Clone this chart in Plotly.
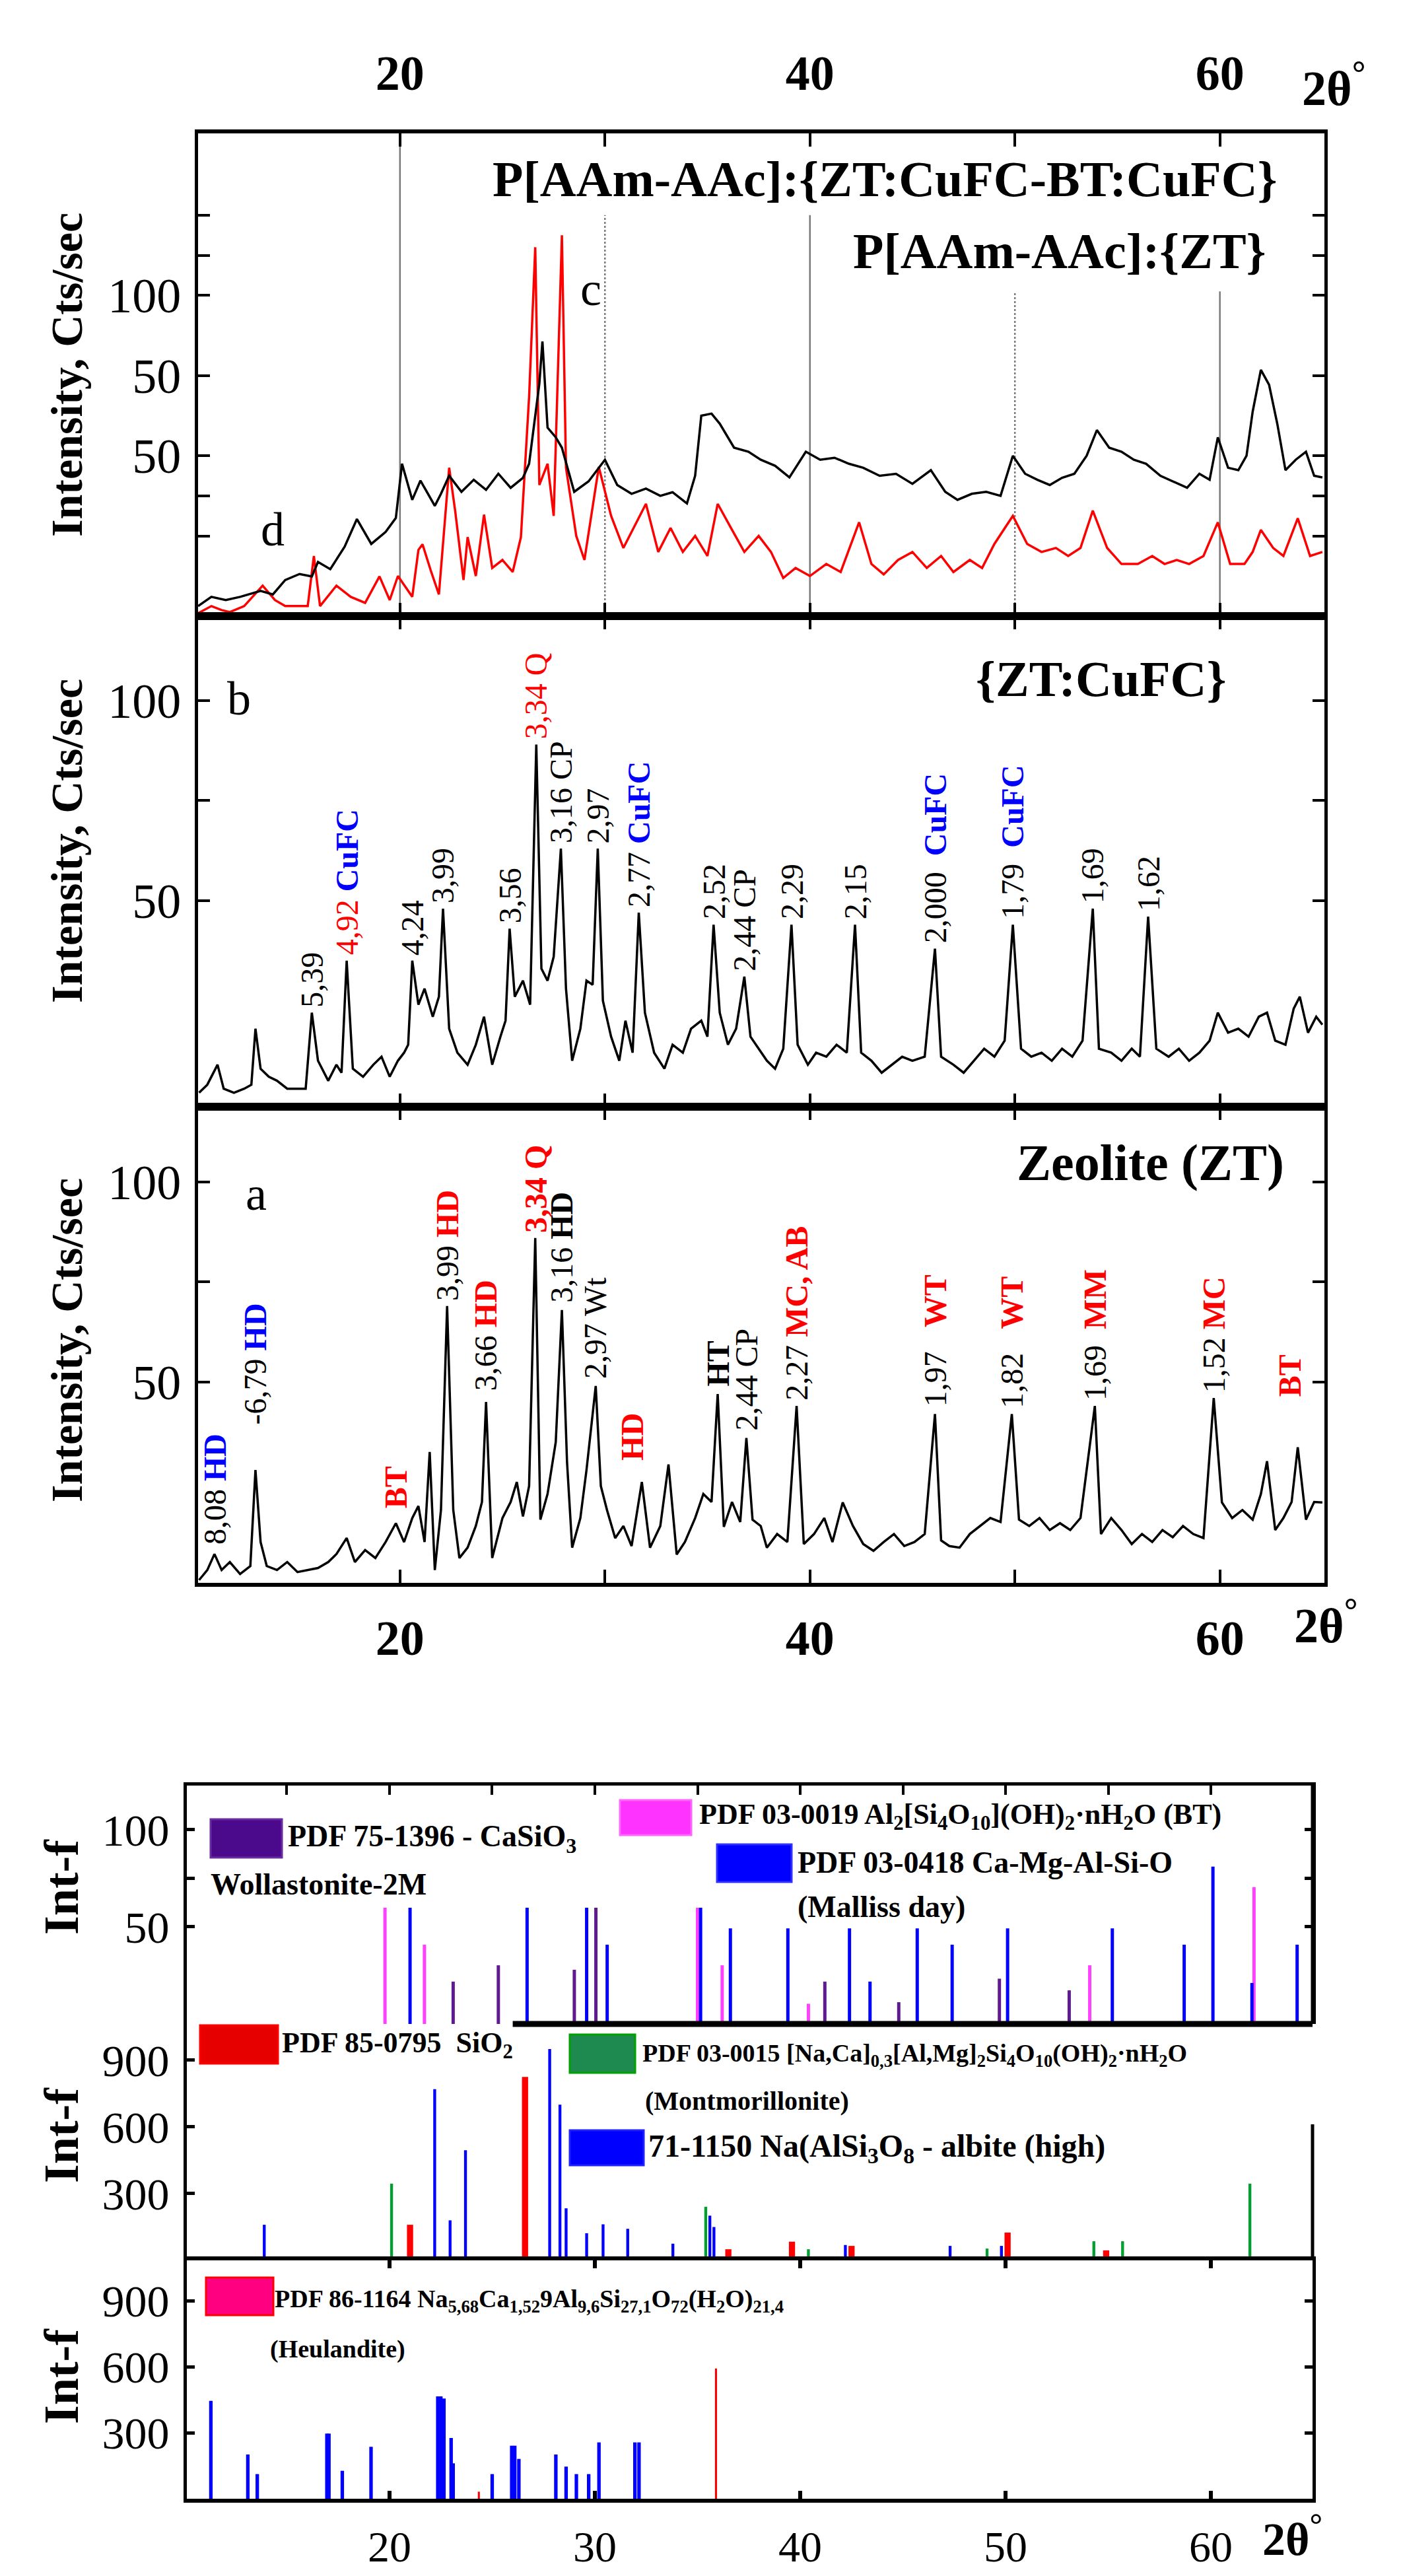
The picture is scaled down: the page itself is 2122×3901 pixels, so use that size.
import plotly.graph_objects as go

W, H = 2122, 3901
FONT = "Liberation Serif"

# ---------------- XRD patterns (2theta, intensity) ----------------
# top panel, black curve (d)
d_x = [10.15, 10.8, 11.5, 12.2, 13.2, 13.8, 14.4, 15.1, 15.7, 16.0, 16.6, 17.3, 17.9, 18.6, 19.3, 19.8,
       20.1, 20.6, 21.0, 21.7, 22.0, 22.4, 23.0, 23.6, 24.2, 24.8, 25.4, 26.0, 26.3, 26.6, 26.8, 26.95,
       27.2, 27.6, 27.9, 28.5, 29.2, 30.0, 30.6, 31.3, 32.0, 32.7, 33.3, 34.0, 34.4, 34.7, 35.2, 35.6,
       36.3, 37.0, 37.6, 38.3, 39.0, 39.8, 40.5, 41.2, 41.9, 42.6, 43.4, 44.2, 45.0, 45.9, 46.6, 47.2,
       47.9, 48.6, 49.3, 49.9, 50.5, 51.1, 51.7, 52.3, 52.9, 53.5, 54.0, 54.6, 55.2, 55.8, 56.4, 57.1,
       57.7, 58.4, 59.0, 59.5, 59.9, 60.4, 60.9, 61.3, 61.6, 62.0, 62.4, 62.8, 63.2, 63.7, 64.2, 64.6, 65.0]
d_y = [2.5, 4.8, 4.0, 4.8, 6.3, 5.4, 9.0, 10.5, 9.9, 13.5, 11.7, 17.3, 24.2, 18.0, 21.0, 24.5,
       38.0, 29.0, 33.8, 27.5, 30.5, 35.0, 31.0, 34.0, 31.5, 35.5, 32.0, 34.5, 38.0, 50.0, 58.0, 68.5,
       47.0, 44.6, 42.0, 31.0, 33.6, 39.0, 32.7, 30.5, 31.8, 30.0, 30.9, 28.1, 35.0, 50.0, 50.5, 48.0,
       42.0, 41.0, 39.0, 37.5, 34.6, 41.0, 39.0, 39.5, 38.0, 37.0, 35.0, 35.5, 33.0, 36.4, 31.0, 29.0,
       30.5, 31.0, 30.0, 40.0, 35.5, 34.0, 32.7, 34.5, 35.5, 40.0, 46.4, 42.0, 41.0, 39.0, 38.0, 35.0,
       33.6, 32.0, 35.5, 34.0, 44.6, 37.0, 36.4, 40.0, 51.0, 61.4, 57.7, 48.0, 36.4, 39.0, 41.0, 35.0, 34.6]

# top panel, red curve (c)
c_x = [10.15, 10.8, 11.3, 11.7, 12.4, 13.3, 13.9, 14.4, 15.1, 15.5, 15.8, 16.1, 16.9, 17.6, 18.3, 19.0,
       19.5, 19.9, 20.6, 20.9, 21.1, 21.5, 21.9, 22.2, 22.4, 22.7, 23.1, 23.3, 23.7, 24.1, 24.5, 25.0,
       25.5, 25.9, 26.3, 26.6, 26.8, 27.2, 27.5, 27.9, 28.1, 28.6, 29.0, 29.7, 30.3, 30.9, 31.4, 32.0,
       32.6, 33.2, 33.8, 34.4, 35.0, 35.5, 36.2, 36.8, 37.5, 38.1, 38.7, 39.3, 40.0, 40.8, 41.5, 42.4,
       43.0, 43.6, 44.3, 45.0, 45.7, 46.4, 47.0, 47.8, 48.4, 49.0, 49.9, 50.6, 51.3, 52.0, 52.6, 53.2,
       53.8, 54.5, 55.2, 56.0, 56.7, 57.3, 57.9, 58.5, 59.2, 59.9, 60.5, 61.2, 61.6, 62.0, 62.6, 63.1,
       63.8, 64.4, 65.0]
c_y = [0.7, 2.5, 1.5, 1.0, 2.5, 7.6, 4.0, 2.5, 2.5, 2.5, 15.0, 2.5, 7.6, 4.8, 3.3, 9.9,
       4.0, 10.0, 4.8, 16.5, 17.9, 11.4, 5.4, 24.0, 37.0, 26.0, 9.0, 19.7, 10.0, 25.3, 12.0, 14.0,
       11.0, 19.7, 54.7, 92.0, 32.7, 38.0, 25.0, 95.0, 37.0, 20.0, 14.0, 37.2, 25.0, 17.0, 22.0, 28.0,
       16.0, 22.0, 16.0, 20.0, 15.0, 28.0, 21.5, 16.0, 20.0, 16.0, 9.5, 12.0, 10.0, 13.0, 11.0, 23.4,
       13.0, 10.4, 14.0, 16.0, 12.0, 15.0, 11.0, 14.0, 12.0, 18.0, 25.0, 18.0, 16.0, 17.0, 15.0, 17.0,
       26.3, 17.0, 13.0, 13.0, 15.0, 13.0, 14.0, 13.0, 15.0, 23.4, 13.0, 13.0, 16.0, 21.5, 17.0, 15.0,
       24.4, 15.0, 16.0]

# middle panel (b) {ZT:CuFC}
b_x = [10.2, 10.6, 11.1, 11.4, 11.9, 12.4, 12.75, 12.95, 13.2, 13.6, 14.0, 14.5, 15.0, 15.4, 15.7, 16.0,
       16.5, 16.9, 17.15, 17.4, 17.7, 18.2, 18.7, 19.1, 19.5, 19.9, 20.2, 20.4, 20.6, 20.9, 21.2, 21.6,
       21.9, 22.1, 22.4, 22.8, 23.3, 23.7, 24.1, 24.5, 24.9, 25.15, 25.35, 25.6, 26.0, 26.35, 26.65, 26.9,
       27.2, 27.5, 27.85, 28.1, 28.4, 28.8, 29.1, 29.4, 29.65, 29.9, 30.3, 30.7, 31.0, 31.35, 31.65, 31.95,
       32.4, 32.9, 33.3, 33.8, 34.2, 34.7, 35.0, 35.3, 35.6, 36.0, 36.4, 36.8, 37.1, 37.5, 37.9, 38.3,
       38.7, 39.1, 39.4, 39.9, 40.3, 40.8, 41.3, 41.8, 42.2, 42.5, 43.0, 43.5, 44.0, 44.5, 45.0, 45.6,
       46.1, 46.4, 47.0, 47.5, 48.0, 48.5, 49.0, 49.5, 49.9, 50.3, 50.8, 51.3, 51.8, 52.3, 52.8, 53.3,
       53.8, 54.1, 54.7, 55.2, 55.7, 56.1, 56.5, 56.9, 57.5, 58.0, 58.5, 59.0, 59.5, 59.9, 60.4, 60.9,
       61.4, 61.9, 62.3, 62.7, 63.2, 63.6, 63.9, 64.3, 64.7, 65.0]
b_y = [2, 4, 9, 3, 2, 3, 4, 18, 8, 6, 5, 3, 3, 3, 22, 10,
       5, 9, 7, 35, 8, 6, 9, 11, 6, 10, 12, 14, 35, 24, 28, 21,
       26, 48, 18, 12, 9, 14, 21, 9, 16, 20, 43, 26, 30, 24, 89, 33,
       30, 36, 63, 28, 10, 18, 30, 29, 63, 25, 16, 10, 20, 12, 47, 22,
       12, 8, 14, 12, 18, 20, 16, 44, 22, 14, 18, 31, 16, 13, 10, 8,
       13, 44, 14, 9, 12, 11, 14, 12, 44, 12, 10, 7, 9, 11, 10, 11,
       38, 11, 9, 7, 10, 13, 11, 15, 44, 13, 11, 12, 10, 13, 11, 15,
       48, 13, 12, 10, 13, 11, 46, 13, 11, 13, 10, 12, 15, 22, 17, 18,
       16, 21, 22, 15, 14, 23, 26, 17, 21, 19]

# bottom panel (a) Zeolite (ZT)
a_x = [10.2, 10.6, 10.95, 11.3, 11.7, 12.2, 12.7, 12.95, 13.2, 13.5, 14.0, 14.5, 15.0, 15.5, 16.0, 16.5,
       16.9, 17.4, 17.8, 18.3, 18.8, 19.3, 19.8, 20.2, 20.6, 20.9, 21.2, 21.45, 21.7, 22.0, 22.3, 22.6,
       22.9, 23.3, 23.7, 24.0, 24.2, 24.5, 25.0, 25.4, 25.7, 26.0, 26.3, 26.6, 26.85, 27.2, 27.6, 27.9,
       28.15, 28.4, 28.8, 29.1, 29.55, 29.8, 30.1, 30.5, 30.9, 31.3, 31.8, 32.2, 32.7, 33.1, 33.5, 33.9,
       34.4, 34.8, 35.2, 35.5, 35.8, 36.2, 36.6, 36.9, 37.2, 37.6, 37.9, 38.4, 38.9, 39.35, 39.7, 40.2,
       40.7, 41.1, 41.6, 42.1, 42.6, 43.1, 43.6, 44.1, 44.6, 45.1, 45.6, 46.1, 46.4, 46.8, 47.3, 47.8,
       48.3, 48.8, 49.3, 49.85, 50.2, 50.7, 51.2, 51.7, 52.2, 52.7, 53.2, 53.9, 54.2, 54.7, 55.2, 55.7,
       56.2, 56.7, 57.2, 57.7, 58.2, 58.7, 59.2, 59.7, 60.1, 60.6, 61.1, 61.6, 62.0, 62.3, 62.7, 63.1,
       63.5, 63.8, 64.2, 64.6, 65.0]
a_y = [0.5, 3, 7, 3, 5, 2, 4, 28, 10, 4, 3, 5, 2.5, 3, 3.5, 5,
       7, 11, 5, 8, 6, 10, 14.7, 10, 16, 19, 10, 32.5, 3, 18, 69, 18,
       6, 8.6, 14, 20, 45, 6, 16, 20, 25, 16.4, 24, 86, 15.6, 22, 35, 68,
       30, 8.6, 16, 28, 49, 24, 18, 11, 14, 9, 25, 8.6, 14, 29.4, 6.9, 10,
       16, 22, 20, 47, 13.8, 20, 15, 36, 15.6, 14, 8.6, 12, 10, 44, 9.5, 12,
       16, 10, 19.9, 14, 9.5, 7.8, 10, 12, 9, 10, 12, 42, 10.4, 9, 8.6, 12,
       14, 16, 15, 42, 15.6, 14, 16, 13, 14.7, 13, 16, 44, 12, 16, 13, 9.5,
       12, 10, 13, 11.2, 14, 12, 11, 46, 19.9, 16, 18, 15.6, 22, 30.2, 13, 16,
       20, 33.7, 15.6, 20, 19.9]

# vertical guide lines of the top panel
grid_x = [20, 30, 40, 50, 60]
grid_top = [120.4, 100, 100, 81, 81]
grid_dash = ["solid", "dot", "solid", "dot", "solid"]

RED, BLUE = "#ff0000", "#0000ff"


def tag(t, color):
    return f'<span style="color:{color}"><b>{t}</b></span>'


# peak labels, middle panel
b_lab_x = [15.7, 17.4, 20.6, 22.1, 25.35, 26.65, 27.85, 29.65, 31.65, 35.3, 36.8, 39.1, 42.2, 46.1,
           49.9, 53.8, 56.5]
b_lab_y = [23, 36, 36, 49, 44, 90, 64, 64, 48, 45, 32, 45, 45, 39, 45, 49, 47]
b_lab_txt = ["5,39", f'<span style="color:{RED}">4,92</span> ' + tag("CuFC", BLUE), "4,24", "3,99", "3,56",
             f'<span style="color:{RED}">3,34 Q</span>', "3,16 CP", "2,97", "2,77 " + tag("CuFC", BLUE),
             "2,52", "2,44 CP", "2,29", "2,15", "2,000&nbsp;&nbsp;" + tag("CuFC", BLUE),
             "1,79&nbsp;&nbsp;" + tag("CuFC", BLUE), "1,69", "1,62"]

# peak labels, bottom panel
a_lab_x = [10.95, 12.95, 19.8, 22.3, 24.2, 26.6, 27.9, 29.55, 31.3, 35.5, 36.9, 39.35, 46.1, 49.85,
           53.9, 59.7, 63.4]
a_lab_y = [9, 39, 18, 70, 47.5, 87, 69.5, 50.5, 30, 48.5, 37.5, 45, 43.5, 43, 45, 47, 46]
a_lab_txt = ["8,08 " + tag("HD", BLUE), "-6,79&nbsp;" + tag("HD", BLUE), tag("BT", RED),
             "3,99 " + tag("HD", RED), "3,66 " + tag("HD", RED), tag("3,34 Q", RED), "3,16 <b>HD</b>",
             "2,97 Wt", tag("HD", RED), "<b>HT</b>", "2,44 CP", "2,27 " + tag("MC, AB", RED),
             "1,97&nbsp;&nbsp;&nbsp;" + tag("WT", RED), "1,82&nbsp;&nbsp;&nbsp;" + tag("WT", RED),
             "1,69&nbsp;&nbsp;" + tag("MM", RED), "1,52 " + tag("MC", RED), tag("BT", RED)]

# ---------------- reference stick patterns ----------------
wol_x = [23.1, 25.3, 29.0, 30.05, 41.2, 44.8, 49.7, 53.1]
wol_y = [21.8, 30.2, 27.9, 59.8, 21.8, 11.2, 23.3, 17.3]
bt_x = [19.78, 21.7, 35.0, 36.2, 40.4, 54.1, 62.1]
bt_y = [59.8, 40.8, 59.8, 30.2, 10.4, 30.2, 70.4]
mal_x = [21.0, 26.7, 29.6, 30.6, 35.15, 36.6, 39.4, 42.4, 43.4, 45.7, 47.4, 50.1, 55.2, 58.7, 60.1, 62.0, 64.2]
mal_y = [59.8, 59.8, 59.8, 40.8, 59.8, 49.2, 49.2, 49.2, 21.8, 49.2, 40.8, 49.2, 49.2, 40.8, 81.0, 21.1, 40.8]

sio2_x = [21.0, 26.6, 36.5, 39.6, 42.5, 50.1, 54.9]
sio2_y = [160, 825, 50, 84, 65, 125, 45]
mont_x = [20.1, 35.4, 40.4, 49.1, 54.3, 55.7, 61.9]
mont_y = [345, 241, 50, 53, 86, 86, 345]
alb_x = [13.9, 22.2, 22.95, 23.7, 27.8, 28.3, 28.6, 29.6, 30.4, 31.6, 33.8, 35.6, 35.8, 42.2, 47.3, 49.8]
alb_y = [160, 770, 180, 495, 950, 700, 234, 122, 162, 142, 75, 201, 150, 69, 65, 65]

heu_x = [11.3, 13.1, 13.56, 16.95, 17.05, 17.7, 19.1, 22.35, 22.5, 22.65, 23.0, 23.1, 25.0, 25.95, 26.1,
         26.3, 28.1, 28.6, 29.1, 29.7, 30.2, 31.95, 32.15]
heu_y = [445, 201, 112, 296, 296, 127, 236, 465, 465, 455, 276, 161, 112, 241, 241, 181, 201, 146, 112,
         112, 256, 256, 256]
heu_red_x = [24.35, 35.9]
heu_red_y = [32, 592]


def dom_y(top, bot):
    return [1 - bot / H, 1 - top / H]


def px(x):
    return x / W


def py(y):
    return 1 - y / H


fig = go.Figure()

# XRD curves
fig.add_trace(go.Scatter(x=c_x, y=c_y, mode="lines", line=dict(color="#ff0000", width=3.5), xaxis="x", yaxis="y"))
fig.add_trace(go.Scatter(x=d_x, y=d_y, mode="lines", line=dict(color="black", width=3.5), xaxis="x", yaxis="y"))
fig.add_trace(go.Scatter(x=b_x, y=b_y, mode="lines", line=dict(color="black", width=3.5), xaxis="x2", yaxis="y2"))
fig.add_trace(go.Scatter(x=a_x, y=a_y, mode="lines", line=dict(color="black", width=3.5), xaxis="x3", yaxis="y3"))

# stick patterns
sticks = [
    (wol_x, wol_y, "#5e1a8e", 0.16, "x4", "y4"),
    (bt_x, bt_y, "#ff40ff", 0.16, "x4", "y4"),
    (mal_x, mal_y, "#0000ff", 0.16, "x4", "y4"),
    (mont_x, mont_y, "#00a030", 0.14, "x5", "y5"),
    (alb_x, alb_y, "#0000ff", 0.14, "x5", "y5"),
    (sio2_x, sio2_y, "#ff0000", 0.3, "x5", "y5"),
    (heu_x, heu_y, "#0000ff", 0.17, "x6", "y6"),
    (heu_red_x, heu_red_y, "#ff0000", 0.1, "x6", "y6"),
]
for sx, sy, col, wd, xa, ya in sticks:
    fig.add_trace(go.Bar(x=sx, y=sy, width=wd, marker=dict(color=col, line=dict(width=0)), xaxis=xa, yaxis=ya))

tick_font = dict(family=FONT, size=74, color="black")
xtick_font = dict(family=FONT, size=74, color="black", weight="bold")
xrd_dom = [px(292), px(1998)]
stk_dom = [px(275), px(1980)]
xr_xrd = [10.15, 65.1]
xr_stk = [10.13, 64.95]

ax_common = dict(showline=True, linecolor="black", showgrid=False, zeroline=False, ticks="inside",
                 tickcolor="black")


def minor(vals, ln, wd):
    return dict(tickvals=vals, ticks="inside", ticklen=ln, tickwidth=wd, tickcolor="black", showgrid=False)


fig.update_layout(
    width=W, height=H, autosize=False,
    margin=dict(l=0, r=0, t=0, b=0),
    paper_bgcolor="white", plot_bgcolor="white",
    showlegend=False, barmode="overlay",
    xaxis=dict(domain=xrd_dom, range=xr_xrd, anchor="y", side="top", tickvals=[20, 40, 60],
               ticklen=20, tickwidth=4, minor=minor([30, 50], 20, 4), linewidth=6, mirror="ticks",
               tickfont=xtick_font, ticklabelstandoff=30, **ax_common),
    yaxis=dict(domain=dom_y(194, 925), range=[0, 120.4], anchor="x", tickvals=[40, 60, 80],
               ticktext=["50", "50", "100"], ticklen=18, tickwidth=4, minor=minor([20, 30, 90, 100], 18, 4),
               linewidth=5, mirror="ticks", tickfont=tick_font, ticklabelstandoff=6, **ax_common),
    xaxis2=dict(domain=xrd_dom, range=xr_xrd, anchor="y2", tickvals=[20, 30, 40, 50, 60], showticklabels=False,
                ticklen=20, tickwidth=4, linewidth=6, mirror="ticks", **ax_common),
    yaxis2=dict(domain=dom_y(925, 1668), range=[-1.5, 121.1], anchor="x2", tickvals=[50, 100],
                ticklen=18, tickwidth=4, minor=minor([75], 18, 4), linewidth=5, mirror="ticks",
                tickfont=tick_font, ticklabelstandoff=6, **ax_common),
    xaxis3=dict(domain=xrd_dom, range=xr_xrd, anchor="y3", tickvals=[20, 40, 60],
                ticklen=20, tickwidth=4, minor=minor([30, 50], 20, 4), linewidth=6, mirror="ticks",
                tickfont=xtick_font, ticklabelstandoff=14, **ax_common),
    yaxis3=dict(domain=dom_y(1668, 2389), range=[-0.2, 118.8], anchor="x3", tickvals=[50, 100],
                ticklen=18, tickwidth=4, minor=minor([75], 18, 4), linewidth=5, mirror="ticks",
                tickfont=tick_font, ticklabelstandoff=6, **ax_common),
    xaxis4=dict(domain=stk_dom, range=xr_stk, anchor="y4", side="top", tickvals=list(range(15, 65, 5)),
                showticklabels=False, ticklen=14, tickwidth=4, linewidth=5, mirror=False, **ax_common),
    yaxis4=dict(domain=dom_y(2696, 3057), range=[0, 122.7], anchor="x4", tickvals=[50, 100],
                ticklen=12, tickwidth=5, minor=minor([75], 12, 5), linewidth=5, mirror="ticks",
                tickfont=dict(family=FONT, size=68, color="black"), ticklabelstandoff=8, **ax_common),
    xaxis5=dict(domain=stk_dom, range=xr_stk, anchor="y5", visible=False),
    yaxis5=dict(domain=dom_y(3057, 3415), range=[0, 1063], anchor="x5", tickvals=[300, 600, 900],
                ticklen=12, tickwidth=5, linewidth=5, mirror=False,
                tickfont=dict(family=FONT, size=68, color="black"), ticklabelstandoff=8, **ax_common),
    xaxis6=dict(domain=stk_dom, range=xr_stk, anchor="y6", tickvals=[20, 30, 40, 50, 60], ticklen=12,
                tickwidth=6, linewidth=6, mirror="ticks", tickfont=dict(family=FONT, size=66, color="black"),
                ticklabelstandoff=10, **ax_common),
    yaxis6=dict(domain=dom_y(3415, 3776), range=[0, 1083], anchor="x6", tickvals=[300, 600, 900],
                ticklen=12, tickwidth=5, linewidth=5, mirror="ticks",
                tickfont=dict(family=FONT, size=68, color="black"), ticklabelstandoff=8, **ax_common),
)

shapes = []
for gx, gt, gd in zip(grid_x, grid_top, grid_dash):
    shapes.append(dict(type="line", xref="x", yref="y", x0=gx, x1=gx, y0=0, y1=gt, layer="below",
                       line=dict(color="#7a7a7a", width=2.5, dash=gd)))
# partial borders of the stick block
shapes.append(dict(type="line", xref="x5", yref="y5 domain", x0=26.0, x1=xr_stk[1], y0=1, y1=1,
                   line=dict(color="black", width=9)))
shapes.append(dict(type="line", xref="x5 domain", yref="y5", x0=1, x1=1, y0=0, y1=612,
                   line=dict(color="black", width=5)))
shapes.append(dict(type="line", xref="x4 domain", yref="y4 domain", x0=1, x1=1, y0=0, y1=1,
                   line=dict(color="black", width=5)))

# legend swatches of the stick block
swatches = [
    (311, 2747, 419, 2805, "#4b0a8c", "#6a2aa0"),
    (931, 2718, 1039, 2771, "#ff33ff", "#ff66ff"),
    (1078, 2785, 1191, 2842, "#0000ff", "#3030ff"),
    (295, 3059, 413, 3117, "#e60000", "#ff0000"),
    (855, 3073, 954, 3131, "#1e8a50", "#00a000"),
    (855, 3218, 967, 3271, "#0000ff", "#2020ff"),
    (304, 3441, 406, 3498, "#ff0080", "#ff0000"),
]
for x0, y0, x1, y1, fc, lc in swatches:
    shapes.append(dict(type="rect", xref="paper", yref="paper", x0=px(x0), x1=px(x1), y0=py(y1), y1=py(y0),
                       fillcolor=fc, line=dict(color=lc, width=3)))
fig.update_layout(shapes=shapes)

ann = []


def text(x, y, s, size, bold=False, xanchor="left", yanchor="middle", angle=0, xref="paper", yref="paper",
         color="black"):
    ann.append(dict(x=x, y=y, xref=xref, yref=yref, text=f"<b>{s}</b>" if bold else s, showarrow=False,
                    xanchor=xanchor, yanchor=yanchor, textangle=angle,
                    font=dict(family=FONT, size=size, color=color)))


# axis titles
for yc in [560, 1266, 2022]:
    text(px(93), py(yc), "Intensity, Cts/sec", 68, bold=True, xanchor="center", angle=-90)
for yc in [2850, 3226, 3591]:
    text(px(85), py(yc), "Int-f", 74, bold=True, xanchor="center", angle=-90)

# 2-theta labels
text(px(2012), py(120), "2θ<sup>°</sup>", 74, bold=True, xanchor="center")
text(px(2000), py(2448), "2θ<sup>°</sup>", 74, bold=True, xanchor="center")
text(px(1949), py(3832), "2θ<sup>°</sup>", 70, bold=True, xanchor="center")

# panel titles
text(px(1332), py(263), "P[AAm-AAc]:{ZT:CuFC-BT:CuFC}", 76, bold=True, xanchor="center")
text(px(1597), py(372), "P[AAm-AAc]:{ZT}", 76, bold=True, xanchor="center")
text(54.2, 105.4, "{ZT:CuFC}", 76, bold=True, xanchor="center", xref="x2", yref="y2")
text(56.6, 104.8, "Zeolite (ZT)", 78, bold=True, xanchor="center", xref="x3", yref="y3")
text(29.3, 81.5, "c", 72, xanchor="center", xref="x", yref="y")
text(13.8, 21.6, "d", 72, xanchor="center", xref="x", yref="y")
text(12.15, 100.5, "b", 72, xanchor="center", xref="x2", yref="y2")
text(13.0, 97, "a", 72, xanchor="center", xref="x3", yref="y3")

# peak labels
for lx, ly, lt in zip(b_lab_x, b_lab_y, b_lab_txt):
    text(lx, ly, lt, 48, xanchor="center", yanchor="bottom", angle=-90, xref="x2", yref="y2")
for lx, ly, lt in zip(a_lab_x, a_lab_y, a_lab_txt):
    text(lx, ly, lt, 48, xanchor="center", yanchor="bottom", angle=-90, xref="x3", yref="y3")

# stick legend texts
legend_texts = [
    (426, 2776, "PDF 75-1396 - CaSiO<sub>3</sub>", 46),
    (309, 2845, "Wollastonite-2M", 46),
    (1049, 2742, "PDF 03-0019 Al<sub>2</sub>[Si<sub>4</sub>O<sub>10</sub>](OH)<sub>2</sub>·nH<sub>2</sub>O (BT)", 44),
    (1198, 2812, "PDF 03-0418 Ca-Mg-Al-Si-O", 46),
    (1198, 2879, "(Malliss day)", 46),
    (417, 3088, "PDF 85-0795  SiO<sub>2</sub>", 44),
    (963, 3104, "PDF 03-0015 [Na,Ca]<sub>0,3</sub>[Al,Mg]<sub>2</sub>Si<sub>4</sub>O<sub>10</sub>(OH)<sub>2</sub>·nH<sub>2</sub>O", 38),
    (967, 3173, "(Montmorillonite)", 40),
    (972, 3245, "71-1150 Na(AlSi<sub>3</sub>O<sub>8</sub> - albite (high)", 48),
    (406, 3476, "PDF 86-1164 Na<sub>5,68</sub>Ca<sub>1,52</sub>9Al<sub>9,6</sub>Si<sub>27,1</sub>O<sub>72</sub>(H<sub>2</sub>O)<sub>21,4</sub>", 38),
    (399, 3549, "(Heulandite)", 38),
]
for lx, ly, lt, ls in legend_texts:
    text(px(lx), py(ly), lt, ls, bold=True)

fig.update_layout(annotations=ann)

fig.write_html("out.html")
